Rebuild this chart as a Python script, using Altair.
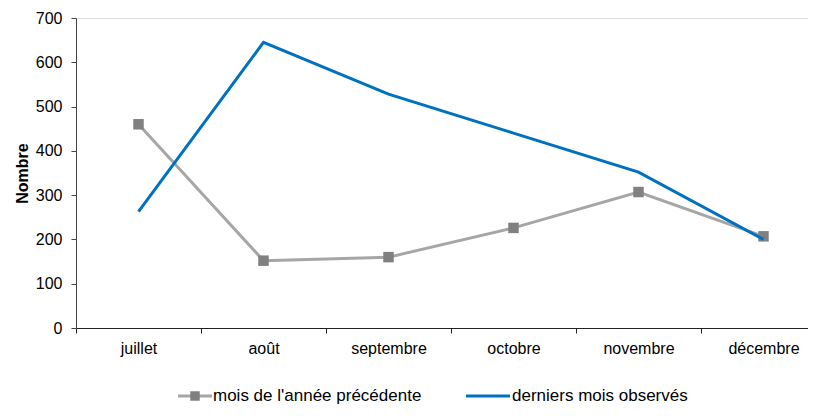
import altair as alt
import pandas as pd

months = ["juillet", "août", "septembre", "octobre", "novembre", "décembre"]
prev_year = [460, 152, 160, 226, 307, 207]
recent = [263, 645, 528, 440, 352, 200]
series_names = ["mois de l'année précédente", "derniers mois observés"]

FONT = "Liberation Sans"
FS = 16
LEG_FS = 17
GRAY_LINE = "#a6a6a6"
GRAY_MARK = "#808080"
BLUE = "#0070c0"

df_prev = pd.DataFrame({"mois": months, "val": prev_year})
df_rec = pd.DataFrame({"mois": months, "val": recent})

x_enc = alt.X(
    "mois:N",
    sort=months,
    bandPosition=0.5,
    scale=alt.Scale(type="band", range=[0, 750], paddingInner=0, paddingOuter=0),
    axis=alt.Axis(
        title=None, labelAngle=0, tickBand="extent", labelFont=FONT, labelFontSize=FS,
        labelColor="#000000", domainColor="#222222", tickColor="#222222",
        tickSize=5, labelPadding=7, domainWidth=1.2, grid=False,
    ),
)
y_enc = alt.Y(
    "val:Q",
    scale=alt.Scale(domain=[0, 700], nice=False),
    axis=alt.Axis(
        title="Nombre", values=[0, 100, 200, 300, 400, 500, 600, 700],
        titleFont=FONT, titleFontSize=FS, titleFontWeight="bold", titleColor="#000000",
        titlePadding=5, labelFont=FONT, labelFontSize=FS, labelColor="#000000",
        labelPadding=9, tickSize=5, domainColor="#444444", tickColor="#444444",
        grid=False,
    ),
)

line_prev = alt.Chart(df_prev).mark_line(color=GRAY_LINE, strokeWidth=3).encode(x=x_enc, y=y_enc)
pts_prev = alt.Chart(df_prev).mark_square(color=GRAY_MARK, size=110, opacity=1).encode(x=x_enc, y=y_enc)
line_rec = alt.Chart(df_rec).mark_line(color=BLUE, strokeWidth=3).encode(x=x_enc, y=y_enc)

one = pd.DataFrame({"a": [0]})
leg_y = 378
leg1_rule = alt.Chart(one).mark_rule(color=GRAY_LINE, strokeWidth=3).encode(
    x=alt.value(102), x2=alt.value(136), y=alt.value(leg_y))
leg1_sq = alt.Chart(one).mark_square(color=GRAY_MARK, size=90, opacity=1).encode(
    x=alt.value(119), y=alt.value(leg_y))
leg1_txt = alt.Chart(one).mark_text(
    text=series_names[0], align="left", baseline="middle", font=FONT, fontSize=LEG_FS, color="#000000"
).encode(x=alt.value(137), y=alt.value(leg_y))
leg2_rule = alt.Chart(one).mark_rule(color=BLUE, strokeWidth=3).encode(
    x=alt.value(390), x2=alt.value(434), y=alt.value(leg_y))
leg2_txt = alt.Chart(one).mark_text(
    text=series_names[1], align="left", baseline="middle", font=FONT, fontSize=LEG_FS, color="#000000"
).encode(x=alt.value(436), y=alt.value(leg_y))

chart = alt.layer(
    line_prev, pts_prev, line_rec, leg1_rule, leg1_sq, leg1_txt, leg2_rule, leg2_txt
).properties(
    width=732, height=310,
    autosize=alt.AutoSizeParams(type="none"),
    padding={"left": 68, "top": 10, "right": 0, "bottom": 80},
).configure_view(stroke=None).configure(background="white")

chart.save("out.html", embed_options={"renderer": "svg", "actions": False})
